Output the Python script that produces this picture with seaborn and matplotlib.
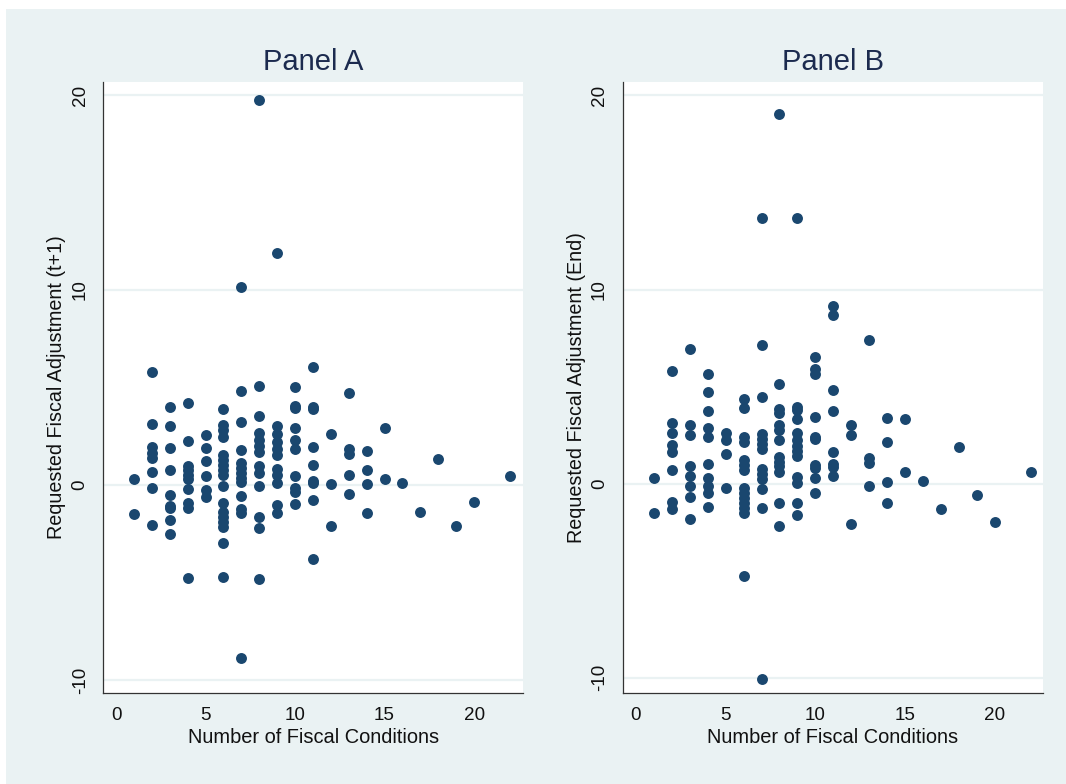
import matplotlib
matplotlib.use("Agg")
import matplotlib.pyplot as plt
from matplotlib.patches import Rectangle
import pandas as pd
import seaborn as sns

# Panel A: number of fiscal conditions vs requested adjustment (t+1)
conds_a = [1, 1,
           2, 2, 2, 2, 2, 2, 2, 2,
           3, 3, 3, 3, 3, 3, 3, 3, 3,
           4, 4, 4, 4, 4, 4, 4, 4, 4, 4,
           5, 5, 5, 5, 5, 5,
           6, 6, 6, 6, 6, 6, 6, 6, 6, 6, 6, 6, 6, 6, 6, 6, 6,
           7, 7, 7, 7, 7, 7, 7, 7, 7, 7, 7, 7, 7,
           8, 8, 8, 8, 8, 8, 8, 8, 8, 8, 8, 8, 8,
           9, 9, 9, 9, 9, 9, 9, 9, 9, 9, 9,
           10, 10, 10, 10, 10, 10, 10, 10, 10, 10,
           11, 11, 11, 11, 11, 11, 11, 11, 11,
           12, 12, 12,
           13, 13, 13, 13, 13,
           14, 14, 14, 14,
           15, 15,
           16, 17, 18, 19, 20, 22]
adj_a = [0.29, -1.50,
         5.81, 3.13, 1.93, 1.66, 1.37, 0.68, -0.17, -2.03,
         4.02, 3.03, 1.88, 0.75, -0.51, -1.06, -1.20, -1.81, -2.51,
         4.22, 2.24, 0.97, 0.77, 0.51, 0.31, -0.19, -0.94, -1.20, -4.79,
         2.55, 1.90, 1.21, 0.46, -0.26, -0.60,
         3.91, 3.08, 2.82, 2.44, 1.54, 1.28, 1.03, 0.77, 0.51, -0.05, -0.94, -1.37, -1.62, -1.88, -2.17, -2.99, -4.70,
         10.17, 4.82, 3.25, 1.79, 1.11, 0.85, 0.60, 0.34, 0.17, -0.56, -1.25, -1.45, -8.89,
         19.74, 5.09, 3.56, 2.65, 2.31, 2.00, 1.71, 0.97, 0.60, -0.03, -1.66, -2.19, -4.82,
         11.88, 3.04, 2.62, 2.19, 1.83, 1.52, 0.80, 0.51, 0.12, -1.03, -1.45,
         5.01, 4.07, 3.97, 2.91, 2.31, 1.85, 0.46, -0.14, -0.34, -0.99,
         6.03, 4.02, 3.88, 1.97, 1.01, 0.22, 0.09, -0.77, -3.79,
         2.62, 0.07, -2.09,
         4.70, 1.83, 1.59, 0.51, -0.46,
         1.74, 0.77, 0.05, -1.45,
         2.91, 0.31,
         0.10, -1.38, 1.32, -2.12, -0.85, 0.48]

# Panel B: number of fiscal conditions vs requested adjustment (end)
conds_b = [1, 1,
           2, 2, 2, 2, 2, 2, 2, 2,
           3, 3, 3, 3, 3, 3, 3, 3,
           4, 4, 4, 4, 4, 4, 4, 4, 4, 4,
           5, 5, 5, 5,
           6, 6, 6, 6, 6, 6, 6, 6, 6, 6, 6, 6, 6, 6,
           7, 7, 7, 7, 7, 7, 7, 7, 7, 7, 7, 7, 7,
           8, 8, 8, 8, 8, 8, 8, 8, 8, 8, 8, 8, 8,
           9, 9, 9, 9, 9, 9, 9, 9, 9, 9, 9, 9, 9,
           10, 10, 10, 10, 10, 10, 10, 10, 10, 10,
           11, 11, 11, 11, 11, 11, 11, 11,
           12, 12, 12,
           13, 13, 13, 13,
           14, 14, 14, 14,
           15, 15,
           16, 17, 18, 19, 20, 22]
adj_b = [0.27, -1.54,
         5.82, 3.14, 2.62, 1.98, 1.64, 0.70, -0.94, -1.31,
         6.93, 3.02, 2.50, 0.90, 0.39, -0.13, -0.68, -1.81,
         5.62, 4.70, 3.75, 2.84, 2.41, 0.99, 0.27, -0.13, -0.51, -1.19,
         2.62, 2.24, 1.50, -0.25,
         4.36, 3.91, 2.38, 2.16, 1.21, 0.95, 0.70, -0.21, -0.47, -0.73, -0.99, -1.25, -1.50, -4.77,
         13.70, 7.12, 4.48, 2.55, 2.29, 2.04, 1.76, 0.73, 0.47, 0.21, -0.28, -1.28, -10.09,
         19.05, 5.13, 3.82, 3.65, 3.02, 2.76, 2.24, 1.38, 1.13, 0.90, 0.61, -1.02, -2.19,
         13.70, 3.96, 3.79, 3.31, 2.62, 2.24, 1.93, 1.69, 1.42, 0.32, 0.04, -1.02, -1.64,
         6.52, 5.91, 5.63, 3.44, 2.41, 2.29, 0.95, 0.78, 0.27, -0.51,
         9.15, 8.67, 4.82, 3.75, 1.61, 1.01, 0.83, 0.40,
         3.02, 2.48, -2.09,
         7.41, 1.33, 1.04, -0.11,
         3.36, 2.16, 0.06, -1.02,
         3.31, 0.61,
         0.11, -1.33, 1.90, -0.58, -1.97, 0.58]

panel_titles = ["Panel A", "Panel B"]
y_labels = ["Requested Fiscal Adjustment (t+1)", "Requested Fiscal Adjustment (End)"]
x_label = "Number of Fiscal Conditions"
x_ticks = [0, 5, 10, 15, 20]
y_ticks = [-10, 0, 10, 20]

sns.set_theme(style="white")
plt.rcParams["font.family"] = ["Liberation Sans", "DejaVu Sans"]

BG = "#eaf2f3"
NAVY = "#1a476f"

fig = plt.figure(figsize=(10.66, 7.84), dpi=100, facecolor="white")
fig.patches.append(Rectangle((6 / 1066, 0), 1 - 6 / 1066, 1 - 9 / 784,
                             transform=fig.transFigure, facecolor=BG,
                             edgecolor="none", zorder=-10))

panels = [(conds_a, adj_a, 103.3, (-0.71, 22.75), (-10.65, 20.68)),
          (conds_b, adj_b, 622.7, (-0.74, 22.68), (-10.78, 20.71))]

for i, (xs, ys, left_px, xlim, ylim) in enumerate(panels):
    df = pd.DataFrame({"conditions": xs, "adjustment": ys})
    ax = fig.add_axes([left_px / 1066, (784 - 692.7) / 784,
                       420 / 1066, (692.7 - 81.7) / 784])
    ax.set_facecolor("white")
    for yv in y_ticks:
        ax.axhline(yv, color=BG, lw=1.6, zorder=0)
    sns.scatterplot(data=df, x="conditions", y="adjustment", ax=ax,
                    color=NAVY, s=62, linewidth=0, zorder=3)
    ax.set_xlim(*xlim)
    ax.set_ylim(*ylim)
    ax.set_xticks(x_ticks)
    ax.set_yticks(y_ticks)
    ax.set_yticklabels([str(v) for v in y_ticks], rotation=90, va="center")
    ax.tick_params(axis="both", labelsize=13.6, colors="#111111",
                   length=5.5, width=0.8, direction="out")
    ax.tick_params(axis="x", pad=4.5)
    ax.tick_params(axis="y", pad=5)
    sns.despine(ax=ax)
    for side in ["left", "bottom"]:
        ax.spines[side].set_color("#333333")
        ax.spines[side].set_linewidth(0.9)
    ax.set_xlabel(x_label, fontsize=14.4, color="#111111", labelpad=3)
    ax.set_ylabel(y_labels[i], fontsize=14.2, color="#111111", labelpad=4)
    ax.set_title(panel_titles[i], fontsize=21, color="#1c2b4f", pad=8.5)

fig.savefig("out.png", dpi=100, facecolor=fig.get_facecolor())
